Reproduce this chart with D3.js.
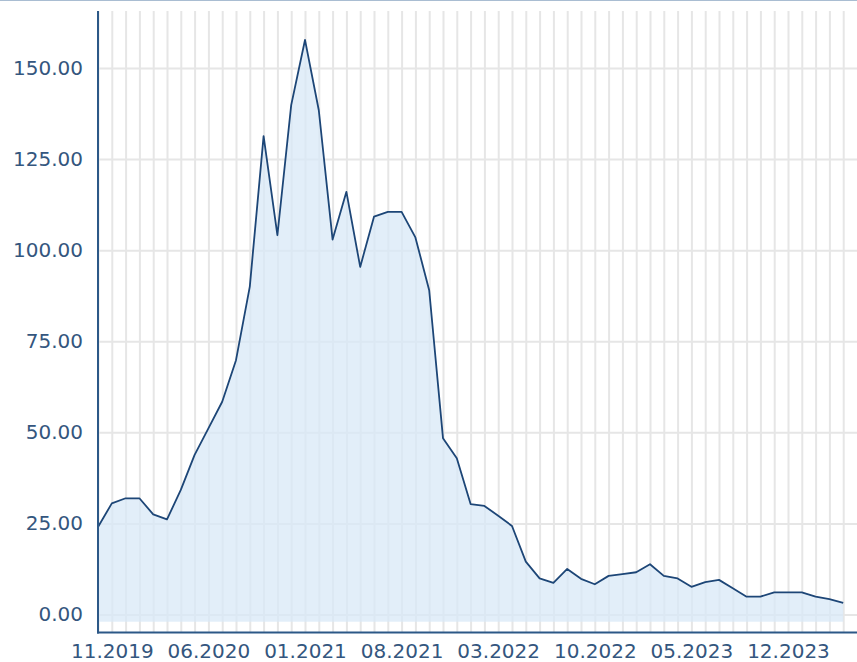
<!DOCTYPE html>
<html>
<head>
<meta charset="utf-8">
<script src="https://cdn.jsdelivr.net/npm/d3@7"></script>
<style>
  html, body { margin: 0; padding: 0; background: #ffffff; }
  svg { display: block; }
</style>
</head>
<body>
<svg id="chart" width="857" height="662"></svg>
<script>
// ---- data ----
const months = d3.timeMonth.range(new Date(2019, 9, 1), new Date(2024, 4, 1)).map(d3.timeFormat("%m.%Y"));
const values = [
  24.0, 30.5, 31.9, 31.9, 27.5, 26.1, 34.2, 43.8, 51.1, 58.4,
  69.8, 90.0, 131.3, 104.1, 139.8, 157.7, 138.4, 102.9, 116.0, 95.4,
  109.2, 110.5, 110.5, 103.5, 89.0, 48.4, 42.9, 30.3, 29.8, 27.1,
  24.3, 14.5, 9.9, 8.7, 12.5, 9.8, 8.3, 10.6, 11.1, 11.6,
  13.8, 10.6, 9.9, 7.6, 8.9, 9.5, 7.2, 4.9, 4.9, 6.1,
  6.1, 6.1, 4.9, 4.2, 3.2
];
const xTickLabels = ["11.2019", "06.2020", "01.2021", "08.2021", "03.2022", "10.2022", "05.2023", "12.2023"];
const yTickValues = [0, 25, 50, 75, 100, 125, 150];

// ---- layout ----
const svg = d3.select("#chart");
const plotLeft = 98, plotRight = 857, plotTop = 11, plotBottom = 632.5;
const areaBase = -2;

const x = d3.scalePoint().domain(months).range([98, 843.2]);
const y = d3.scaleLinear().domain([0, 150]).range([614.5, 68]);

const axisColor = "#2c5887";
const textColor = "#34567e";
const gridColor = "#e6e6e6";

// top border
svg.append("line").attr("x1", 0).attr("x2", 857).attr("y1", 0.5).attr("y2", 0.5)
  .attr("stroke", "#a9bdd2").attr("stroke-width", 1);

// vertical grid
const gx = svg.append("g")
  .attr("transform", `translate(0,${plotBottom})`)
  .call(d3.axisBottom(x).tickSize(-(plotBottom - plotTop)).tickFormat(""));
gx.select(".domain").remove();
gx.selectAll(".tick line").attr("stroke", gridColor).attr("stroke-width", 2);

// horizontal grid
const gy = svg.append("g")
  .attr("transform", `translate(${plotLeft},0)`)
  .call(d3.axisLeft(y).tickValues(yTickValues).tickSize(-(plotRight - plotLeft)).tickFormat(""));
gy.select(".domain").remove();
gy.selectAll(".tick line").attr("stroke", gridColor).attr("stroke-width", 2);

// area
const data = months.map((m, i) => ({ m, v: values[i] }));
svg.append("path").datum(data)
  .attr("fill", "#d8e8f7").attr("fill-opacity", 0.75)
  .attr("d", d3.area().x(d => x(d.m)).y0(y(areaBase)).y1(d => y(d.v)));

svg.append("path").datum(data)
  .attr("fill", "none").attr("stroke", "#1d4677").attr("stroke-width", 1.8)
  .attr("stroke-linejoin", "round")
  .attr("d", d3.line().x(d => x(d.m)).y(d => y(d.v)));

// axes
const yAxis = svg.append("g")
  .attr("transform", `translate(${plotLeft},0)`)
  .call(d3.axisLeft(y).tickValues(yTickValues).tickSize(0).tickPadding(15).tickFormat(d3.format(".2f")));
yAxis.select(".domain").remove();
yAxis.selectAll("text").attr("fill", textColor)
  .style("font-family", "'DejaVu Sans', Verdana, sans-serif").style("font-size", "20px");

const xAxis = svg.append("g")
  .attr("transform", `translate(0,${plotBottom})`)
  .call(d3.axisBottom(x).tickValues(xTickLabels).tickSize(0).tickPadding(11));
xAxis.select(".domain").remove();
xAxis.selectAll("text").attr("fill", textColor)
  .style("font-family", "'DejaVu Sans', Verdana, sans-serif").style("font-size", "20px");

svg.append("line").attr("x1", plotLeft).attr("x2", plotLeft).attr("y1", plotTop).attr("y2", plotBottom + 1)
  .attr("stroke", axisColor).attr("stroke-width", 2);
svg.append("line").attr("x1", plotLeft - 1).attr("x2", plotRight).attr("y1", plotBottom).attr("y2", plotBottom)
  .attr("stroke", axisColor).attr("stroke-width", 2);
</script>
</body>
</html>
